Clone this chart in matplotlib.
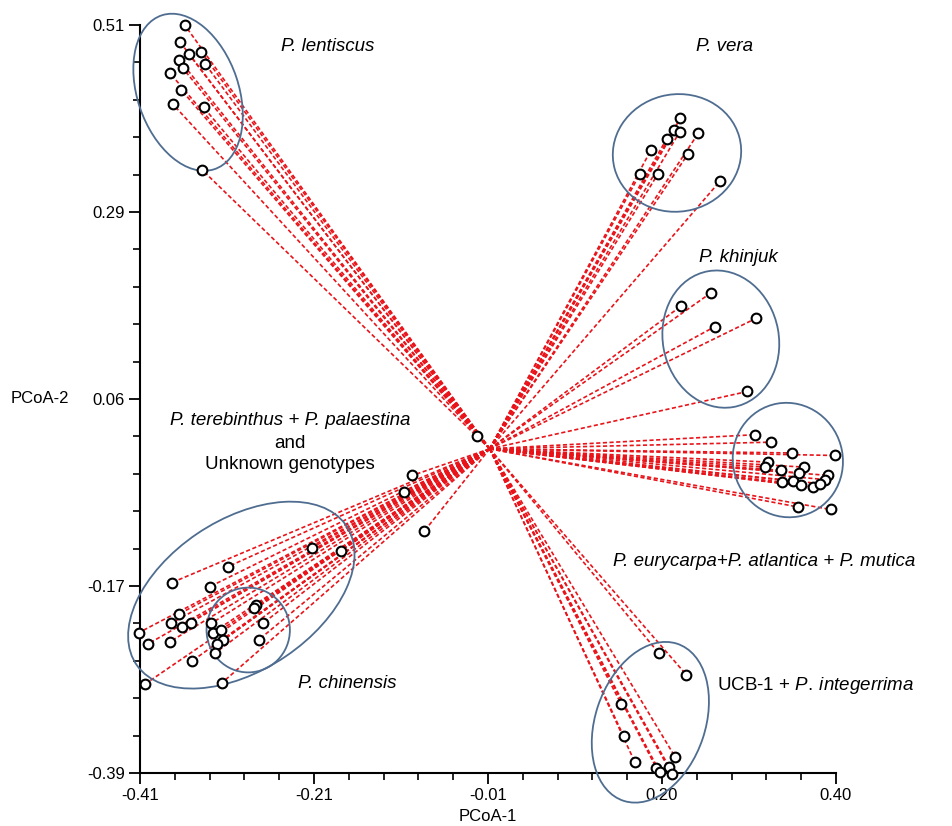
import numpy as np
import matplotlib
matplotlib.use("Agg")
import matplotlib.pyplot as plt
from matplotlib.patches import Ellipse

plt.rcParams['font.family'] = ['Liberation Sans', 'DejaVu Sans']
plt.rcParams['mathtext.fontset'] = 'custom'
plt.rcParams['mathtext.rm'] = 'Liberation Sans'
plt.rcParams['mathtext.it'] = 'Liberation Sans:italic'

# PCoA coordinates (PCoA-1, PCoA-2)
lentiscus_x = [-0.358, -0.363, -0.339, -0.353, -0.364, -0.334, -0.360, -0.375, -0.362, -0.372, -0.336, -0.338]
lentiscus_y = [0.510, 0.489, 0.478, 0.475, 0.468, 0.463, 0.458, 0.452, 0.432, 0.415, 0.411, 0.336]

vera_x = [0.219, 0.212, 0.218, 0.203, 0.240, 0.185, 0.228, 0.172, 0.193, 0.265]
vera_y = [0.398, 0.383, 0.381, 0.373, 0.380, 0.360, 0.355, 0.331, 0.331, 0.322]

khinjuk_x = [0.255, 0.220, 0.259, 0.307, 0.297]
khinjuk_y = [0.188, 0.172, 0.147, 0.157, 0.069]

atlantica_x = [0.306, 0.324, 0.349, 0.399, 0.321, 0.318, 0.336, 0.363, 0.357,
               0.391, 0.387, 0.337, 0.350, 0.359, 0.373, 0.382, 0.356, 0.394]
atlantica_y = [0.017, 0.008, -0.005, -0.008, -0.016, -0.022, -0.026, -0.022, -0.029,
               -0.032, -0.037, -0.040, -0.039, -0.044, -0.046, -0.042, -0.070, -0.073]

terebinthus_x = [-0.018, -0.093, -0.103, -0.079, -0.210, -0.176, -0.308, -0.373, -0.329,
                 -0.275, -0.277, -0.365, -0.374, -0.361, -0.351, -0.327, -0.267, -0.411,
                 -0.325, -0.316, -0.401, -0.375, -0.313, -0.320, -0.272, -0.323, -0.349,
                 -0.404, -0.315]
terebinthus_y = [0.016, -0.032, -0.052, -0.099, -0.119, -0.123, -0.142, -0.161, -0.166,
                 -0.188, -0.192, -0.199, -0.210, -0.214, -0.209, -0.210, -0.210, -0.221,
                 -0.221, -0.218, -0.235, -0.232, -0.230, -0.235, -0.230, -0.246, -0.255,
                 -0.283, -0.282]

integerrima_x = [0.194, 0.226, 0.150, 0.153, 0.166, 0.213, 0.191, 0.206, 0.195, 0.209]
integerrima_y = [-0.246, -0.272, -0.307, -0.346, -0.377, -0.371, -0.384, -0.383, -0.389, -0.391]

centre = (-0.003, 0.0)

xtick_labels = ['-0.41', '-0.21', '-0.01', '0.20', '0.40']
ytick_labels = ['-0.39', '-0.17', '0.06', '0.29', '0.51']

groups = [(lentiscus_x, lentiscus_y), (vera_x, vera_y), (khinjuk_x, khinjuk_y),
          (atlantica_x, atlantica_y), (terebinthus_x, terebinthus_y),
          (integerrima_x, integerrima_y)]

fig = plt.figure(figsize=(9.52, 8.26), dpi=100)
ax = fig.add_axes([0.147, 0.0642, 0.7311, 0.9056])

for gx, gy in groups:
    for x, y in zip(gx, gy):
        ax.plot([centre[0], x], [centre[1], y], color='#e8141a', lw=1.2,
                ls=(0, (2.5, 1.5)), zorder=2, clip_on=False)
    ax.plot(gx, gy, 'o', mfc='white', mec='black', ms=7, mew=1.5, zorder=4,
            clip_on=False)

# group outlines
ellipses = [(-0.354, 0.429, 0.118, 0.195, 18),
            (0.215, 0.356, 0.150, 0.141, 15),
            (0.266, 0.132, 0.135, 0.166, 10),
            (0.344, -0.0135, 0.128, 0.138, 10),
            (-0.292, -0.176, 0.296, 0.180, 35),
            (-0.284, -0.218, 0.097, 0.102, 0),
            (0.184, -0.329, 0.128, 0.199, -18)]
for cx, cy, w, h, a in ellipses:
    ax.add_patch(Ellipse((cx, cy), w, h, angle=a, fill=False, ec='#4f6d90',
                         lw=1.3, zorder=3, clip_on=False))

fs = 13.5
ax.text(-0.191, 0.484, 'P. lentiscus', style='italic', fontsize=fs, ha='center', va='center')
ax.text(0.270, 0.484, 'P. vera', style='italic', fontsize=fs, ha='center', va='center')
ax.text(0.286, 0.230, 'P. khinjuk', style='italic', fontsize=fs, ha='center', va='center')
ax.text(-0.235, 0.0335, 'P. terebinthus + P. palaestina', style='italic', fontsize=fs,
        ha='center', va='center')
ax.text(-0.235, 0.007, 'and', fontsize=fs, ha='center', va='center')
ax.text(-0.235, -0.0194, 'Unknown genotypes', fontsize=fs, ha='center', va='center')
ax.text(0.316, -0.136, 'P. eurycarpa+P. atlantica + P. mutica', style='italic',
        fontsize=fs, ha='center', va='center', clip_on=False)
ax.text(-0.169, -0.282, 'P. chinensis', style='italic', fontsize=fs, ha='center', va='center')
ax.text(0.376, -0.285, r'UCB-1 + $\mathit{P.\:integerrima}$', fontsize=fs,
        ha='center', va='center', clip_on=False)

ax.set_xlim(-0.41, 0.40)
ax.set_ylim(-0.39, 0.51)
ax.set_xticks(np.linspace(-0.41, 0.40, 5))
ax.set_xticklabels(xtick_labels)
ax.set_yticks(np.linspace(-0.39, 0.51, 5))
ax.set_yticklabels(ytick_labels)
ax.set_xticks(np.linspace(-0.41, 0.40, 21), minor=True)
ax.set_yticks(np.linspace(-0.39, 0.51, 21), minor=True)
ax.tick_params(which='major', direction='out', length=8, width=1.3, labelsize=12, pad=3)
ax.tick_params(which='minor', direction='out', length=5, width=1.2)

for s in ['top', 'right']:
    ax.spines[s].set_visible(False)
for s in ['left', 'bottom']:
    ax.spines[s].set_linewidth(1.5)

ax.set_xlabel('PCoA-1', fontsize=12, labelpad=4)
ax.set_ylabel('PCoA-2', fontsize=12, rotation=0, ha='center', va='center')
ax.yaxis.set_label_coords(-0.144, 0.501)

fig.savefig('out.png', dpi=100)
